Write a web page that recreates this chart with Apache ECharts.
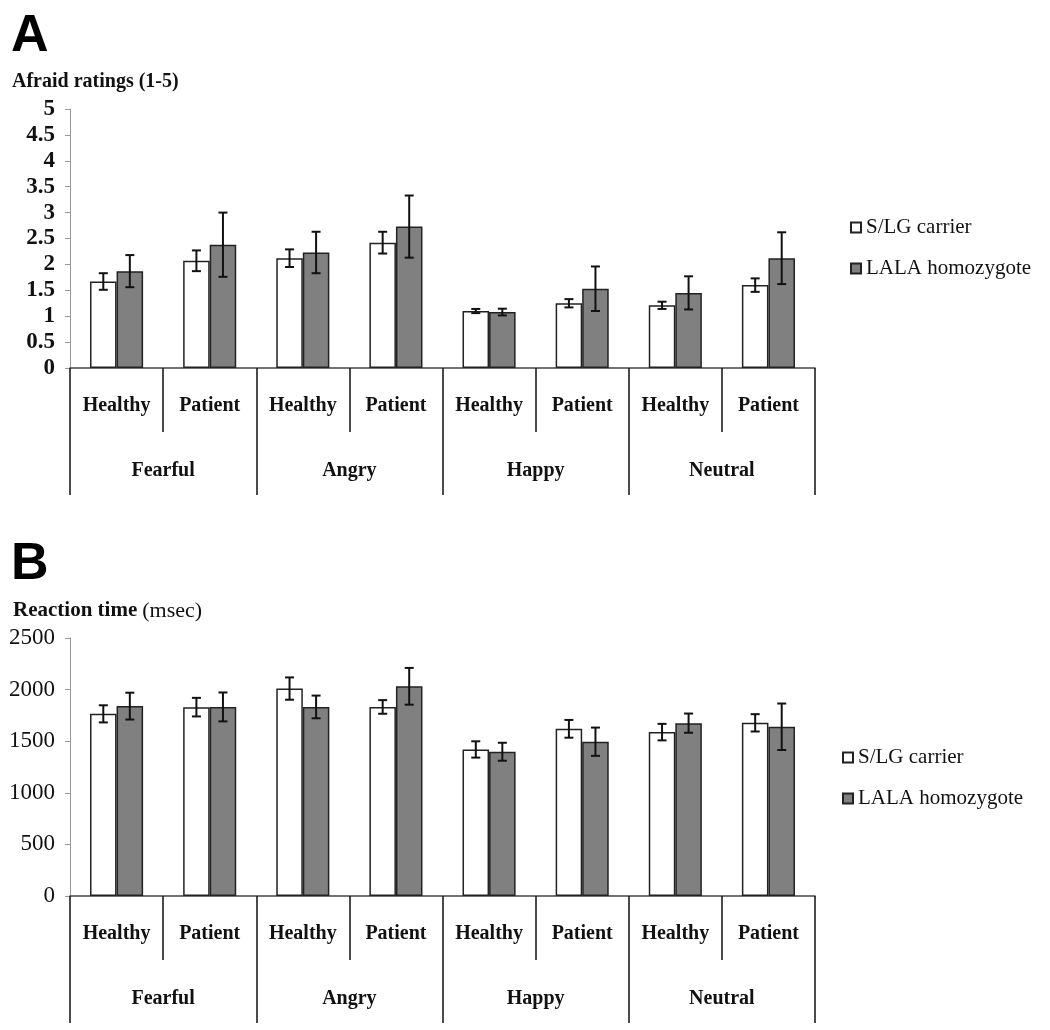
<!DOCTYPE html>
<html>
<head>
<meta charset="utf-8">
<script src="https://cdn.jsdelivr.net/npm/echarts@6/dist/echarts.min.js"></script>
<style>
html,body{margin:0;padding:0;background:#fff;}
#chart{width:1050px;height:1030px;}
</style>
</head>
<body>
<div id="chart"></div>
<script>
// ---- data ----
const groups = ['Fearful', 'Angry', 'Happy', 'Neutral'];
const subgroups = ['Healthy', 'Patient'];
const seriesNames = ['S/LG carrier', 'LALA homozygote'];

const afraidSLG = [1.67, 2.07, 2.12, 2.42, 1.10, 1.25, 1.21, 1.60];
const afraidSLGErr = [0.16, 0.20, 0.17, 0.21, 0.04, 0.08, 0.07, 0.13];
const afraidLALA = [1.87, 2.38, 2.23, 2.73, 1.08, 1.53, 1.45, 2.12];
const afraidLALAErr = [0.31, 0.62, 0.40, 0.60, 0.065, 0.43, 0.32, 0.50];

const rtSLG = [1765, 1830, 2010, 1832, 1420, 1620, 1588, 1678];
const rtSLGErr = [83, 90, 108, 66, 79, 86, 80, 84];
const rtLALA = [1840, 1832, 1832, 2032, 1398, 1495, 1675, 1640];
const rtLALAErr = [130, 140, 110, 178, 87, 137, 93, 225];

const afraidTicks = {min: 0, max: 5, interval: 0.5};
const rtTicks = {min: 0, max: 2500, interval: 500};

// ---- build ----
const categories = [];
groups.forEach(() => subgroups.forEach(s => categories.push(s)));

const SERIF = "'Liberation Serif', 'Times New Roman', serif";
const SANS = "'Liberation Sans', Arial, sans-serif";
const BW = 0.285;

const chart = echarts.init(document.getElementById('chart'));

function subAxis(gi) {
  return {
    type: 'category', gridIndex: gi, data: categories, position: 'bottom',
    axisLine: {show: true, lineStyle: {color: '#444', width: 1.5}},
    axisTick: {show: true, interval: 0, length: 64, lineStyle: {color: '#111', width: 1.5}},
    axisLabel: {interval: 0, margin: 28, fontFamily: SERIF, fontWeight: 'bold', fontSize: 20, color: '#111'}
  };
}
function groupAxis(gi) {
  return {
    type: 'category', gridIndex: gi, data: groups, position: 'bottom',
    axisLine: {show: false},
    axisTick: {show: true, interval: 0, length: 127, lineStyle: {color: '#111', width: 1.5}},
    axisLabel: {interval: 0, margin: 93, fontFamily: SERIF, fontWeight: 'bold', fontSize: 20, color: '#111'}
  };
}
function yAxis(gi, t, bold) {
  return {
    type: 'value', gridIndex: gi, min: t.min, max: t.max, interval: t.interval,
    splitLine: {show: false},
    axisLine: {show: true, lineStyle: {color: '#999', width: 1}},
    axisTick: {show: true, length: 5, lineStyle: {color: '#999'}},
    axisLabel: {margin: 15, formatter: v => String(v), fontFamily: SERIF, fontWeight: bold ? 'bold' : 'normal', fontSize: 23, color: '#111'}
  };
}
function bar(name, data, xi, yi, color) {
  return {
    name: name, type: 'bar', xAxisIndex: xi, yAxisIndex: yi, data: data,
    barWidth: (BW * 100) + '%', barGap: '0%',
    itemStyle: {color: color, borderColor: '#222', borderWidth: 1.5},
    emphasis: {disabled: true}
  };
}
function errSeries(vals, errs, side, xi, yi) {
  return {
    type: 'custom', xAxisIndex: xi, yAxisIndex: yi, z: 10,
    data: vals.map((v, i) => [i, v, errs[i]]),
    encode: {x: 0, y: 1},
    renderItem: function (params, api) {
      const i = api.value(0), v = api.value(1), e = api.value(2);
      const c = api.coord([i, v]);
      const cw = api.size([1, 0])[0];
      const x = c[0] + side * cw * BW / 2;
      const top = api.coord([i, v + e])[1];
      const bot = api.coord([i, v - e])[1];
      const cap = 4.5;
      const st = {stroke: '#111', lineWidth: 2};
      return {type: 'group', children: [
        {type: 'line', shape: {x1: x, y1: top, x2: x, y2: bot}, style: st},
        {type: 'line', shape: {x1: x - cap, y1: top, x2: x + cap, y2: top}, style: st},
        {type: 'line', shape: {x1: x - cap, y1: bot, x2: x + cap, y2: bot}, style: st}
      ]};
    }
  };
}
function legend(top, left) {
  return {
    orient: 'vertical', left: left, top: top, itemGap: 20,
    itemWidth: 10, itemHeight: 10, icon: 'rect',
    data: seriesNames,
    textStyle: {fontFamily: SERIF, fontSize: 21, lineHeight: 21, color: '#111'},
    selectedMode: false
  };
}

const option = {
  animation: false,
  title: [
    {text: 'A', left: 6, top: 6, textStyle: {fontFamily: SANS, fontWeight: 'bold', fontSize: 52, color: '#000'}},
    {text: 'Afraid ratings (1-5)', left: 7, top: 67, textStyle: {fontFamily: SERIF, fontWeight: 'bold', fontSize: 20, color: '#111'}},
    {text: 'B', left: 6, top: 534, textStyle: {fontFamily: SANS, fontWeight: 'bold', fontSize: 52, color: '#000'}},
    {text: '{b|Reaction time} {n|(msec)}', left: 8, top: 595, textStyle: {rich: {
      b: {fontFamily: SERIF, fontWeight: 'bold', fontSize: 21, color: '#111'},
      n: {fontFamily: SERIF, fontWeight: 'normal', fontSize: 22, color: '#111'}
    }}}
  ],
  legend: [legend(212, 845), legend(742, 837)],
  grid: [
    {left: 70, right: 235, top: 109, bottom: 662},
    {left: 70, right: 235, top: 638, bottom: 134}
  ],
  xAxis: [subAxis(0), groupAxis(0), subAxis(1), groupAxis(1)],
  yAxis: [yAxis(0, afraidTicks, true), yAxis(1, rtTicks, false)],
  series: [
    bar(seriesNames[0], afraidSLG, 0, 0, '#ffffff'),
    bar(seriesNames[1], afraidLALA, 0, 0, '#808080'),
    errSeries(afraidSLG, afraidSLGErr, -1, 0, 0),
    errSeries(afraidLALA, afraidLALAErr, 1, 0, 0),
    bar(seriesNames[0], rtSLG, 2, 1, '#ffffff'),
    bar(seriesNames[1], rtLALA, 2, 1, '#808080'),
    errSeries(rtSLG, rtSLGErr, -1, 2, 1),
    errSeries(rtLALA, rtLALAErr, 1, 2, 1)
  ]
};
chart.setOption(option);
</script>
</body>
</html>
